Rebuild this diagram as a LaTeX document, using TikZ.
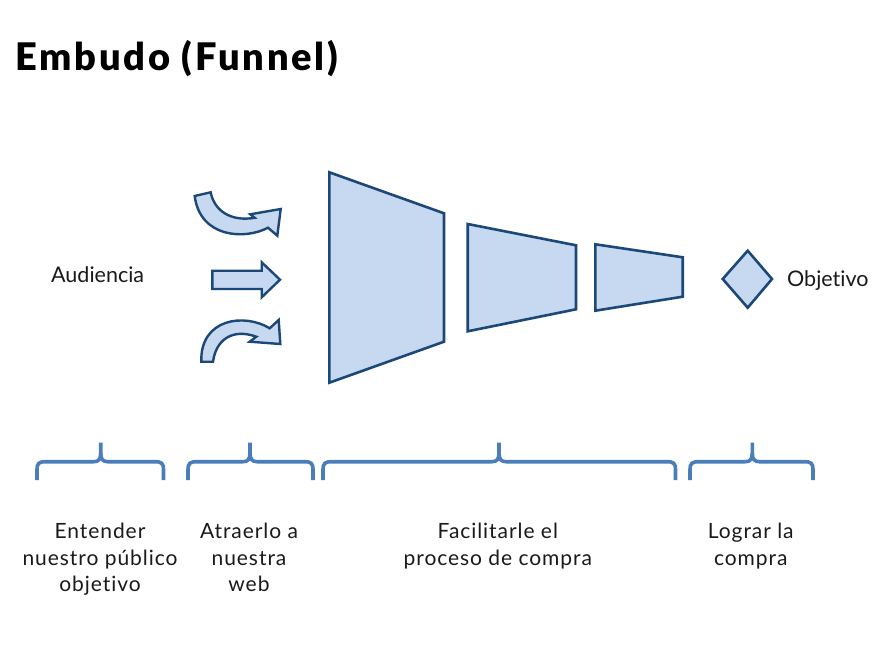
\documentclass[tikz,border=0pt]{standalone}
\usepackage{fontspec}
\setmainfont{Lato}[Ligatures=NoCommon]
\newfontfamily\stagefont{Lato}[LetterSpace=4.5,Ligatures=NoCommon]
\IfFontExistsTF{Lato Black}
  {\newfontfamily\headfont{Lato Black}[LetterSpace=7.3]}
  {\newfontfamily\headfont{Lato}[UprightFont=* Bold,FakeBold=1.5,LetterSpace=9]}
\definecolor{shapefill}{RGB}{198,217,241}
\definecolor{shapeedge}{RGB}{28,72,120}
\definecolor{bracecol}{RGB}{74,126,187}
\definecolor{textcol}{RGB}{26,26,26}
\begin{document}
\begin{tikzpicture}[x=1pt,y=-1pt,
  shapebox/.style={draw=shapeedge,fill=shapefill,line width=2.6pt,line join=miter},
  arrowshape/.style={draw=shapeedge,fill=shapefill,line width=2.4pt,line join=miter},
  bracestroke/.style={draw=bracecol,line width=3.6pt,line cap=butt},
  sidelabel/.style={text=textcol,font=\fontsize{21.5}{27}\selectfont,inner sep=0pt},
  stagelabel/.style={text=textcol,font=\stagefont\fontsize{21}{26.7}\selectfont,align=center,inner sep=0pt},
  title/.style={text=black,font=\headfont\fontsize{38}{44}\selectfont,inner sep=0pt}]
\useasboundingbox (0,0) rectangle (895,669);
\fill[white] (0,0) rectangle (895,669);

% heading
\node[title,anchor=base west] (heading) at (15,70.7) {Embudo (Funnel)};

% side labels
\node[sidelabel,anchor=base west] (audiencia) at (51,282.3) {Audiencia};
\node[sidelabel,anchor=base west] (objetivo) at (787,286.5) {Objetivo};

% incoming arrows
\draw[arrowshape] (194.7,196) -- (210.7,192.3)
  .. controls (214,210) and (230,222) .. (254.7,217.8)
  -- (250.3,214.3) -- (280.7,209) -- (277.3,235.7) -- (268,227.7)
  .. controls (245,240) and (200,238) .. cycle;
\draw[arrowshape] (212.3,270.7) -- (261.7,270.7) -- (261.7,262.3) -- (280,279.7)
  -- (261.7,297.3) -- (261.7,289) -- (212.3,289) -- cycle;
\draw[arrowshape] (201.3,361.7) -- (213,361.7)
  .. controls (216,340) and (232,328) .. (256.3,336.7)
  -- (249.7,341.7) -- (280.3,344) -- (278.7,320) -- (269.7,328.3)
  .. controls (245,313) and (200,318) .. cycle;

% funnel stages
\draw[shapebox] (329.3,172.3) -- (444,213.3) -- (444,341.7) -- (329.3,382.7) -- cycle;
\draw[shapebox] (467.7,224) -- (576,245.3) -- (576,309.3) -- (467.7,331.3) -- cycle;
\draw[shapebox] (595.3,244.3) -- (682.7,257.3) -- (682.7,296.7) -- (595.3,310.7) -- cycle;

% goal marker
\draw[shapebox] (722.7,279) -- (747.7,250.7) -- (772,279) -- (747.7,307.7) -- cycle;

% braces over the stage descriptions
\foreach \l/\m/\r in {37/100.7/163.5, 188/250/313, 323/499/675.5, 690/752.3/813} {
  \draw[bracestroke] (\l,480) -- (\l,470) .. controls (\l,463) and (\l+2,461.7) .. (\l+9,461.7)
    -- (\m-7,461.7) .. controls (\m-2,461.7) and (\m,459) .. (\m,453) -- (\m,442.5);
  \draw[bracestroke] (\r,480) -- (\r,470) .. controls (\r,463) and (\r-2,461.7) .. (\r-9,461.7)
    -- (\m+7,461.7) .. controls (\m+2,461.7) and (\m,459) .. (\m,453);
}

% stage descriptions (anchored on the baseline of their last line)
\node[stagelabel,anchor=base] (entender) at (100,591.7) {Entender\\nuestro público\\objetivo};
\node[stagelabel,anchor=base] (atraer) at (249,591.7) {Atraerlo a\\nuestra\\web};
\node[stagelabel,anchor=base] (facilitar) at (497.8,565) {Facilitarle el\\proceso de compra};
\node[stagelabel,anchor=base] (lograr) at (750.8,565) {Lograr la\\compra};
\end{tikzpicture}
\end{document}
